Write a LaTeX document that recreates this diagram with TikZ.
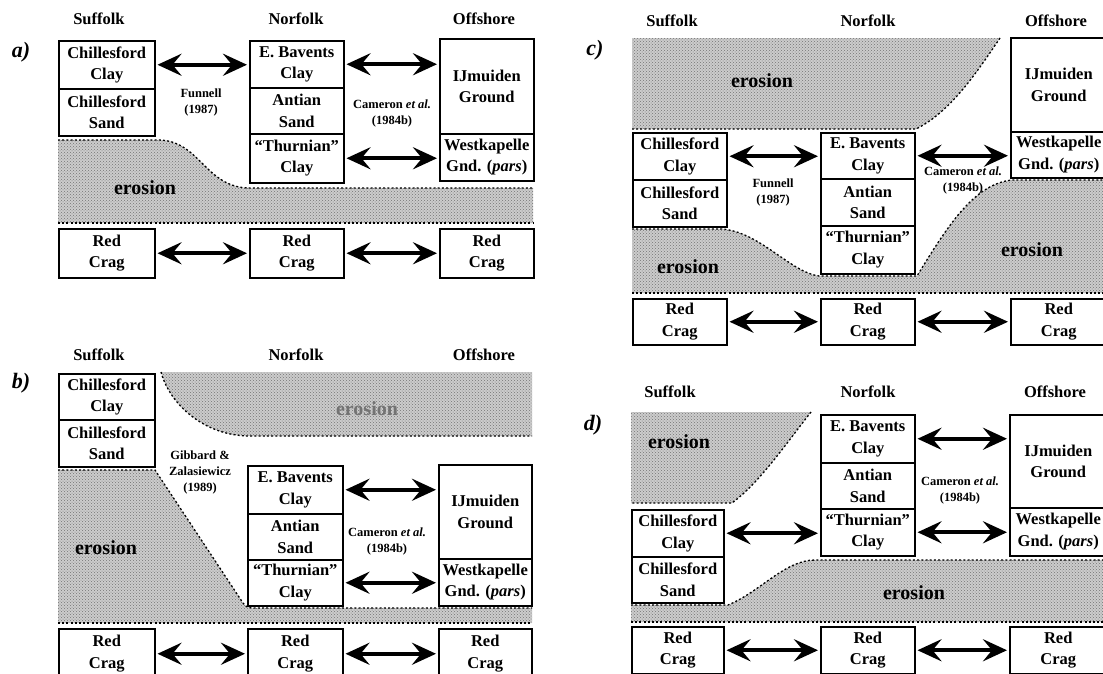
\documentclass[tikz,border=0pt]{standalone}
\usepackage{fontspec}
\setmainfont{Liberation Serif}
\usetikzlibrary{arrows.meta,patterns}
\tikzset{
  lbox/.style={draw, line width=1.5pt, inner sep=0pt, align=center, anchor=north west,
    font=\fontsize{16.5}{21.5}\selectfont\bfseries},
  sz/.style 2 args={minimum width=#1pt, minimum height=#2pt},
  hdr/.style={font=\fontsize{16.5}{18}\selectfont\bfseries},
  refl/.style={align=center, font=\fontsize{12.5}{16}\selectfont\bfseries},
  elab/.style={font=\fontsize{20}{24}\selectfont\bfseries},
  plab/.style={font=\fontsize{22}{24}\selectfont\bfseries\itshape},
  ero/.style={preaction={fill=black!20}, pattern=crosshatch dots, pattern color=black!55},
  erb/.style={line width=1.3pt, dash pattern=on 2pt off 2.2pt},
  dar/.style={line width=4pt,
    {Stealth[length=24pt,width=22pt,inset=9pt]}-{Stealth[length=24pt,width=22pt,inset=9pt]},
    shorten >=2pt, shorten <=2pt},
}
\begin{document}
\begin{tikzpicture}[x=1pt,y=-1pt]
\useasboundingbox (0,0) rectangle (1103,673);
\clip (0,0) rectangle (1103,673);
\fill[white] (0,0) rectangle (1103,673);

% ================= panel a =================
\path[ero] (58,140) -- (158,140) .. controls (200,140) and (205,188) .. (250,188) -- (533,188) -- (533,223) -- (58,223) -- cycle;
\draw[erb] (58,140) -- (158,140) .. controls (200,140) and (205,188) .. (250,188) -- (533,188);
\draw[erb] (58,223) -- (533,223);
\node[plab] (aL) at (21,52) {a)};
\node[hdr] (aHS) at (99,19) {Suffolk};
\node[hdr] (aHN) at (296,19) {Norfolk};
\node[hdr] (aHO) at (484,19) {Offshore};
\node[lbox, sz={96}{48}] (aCC) at (58,40) {Chillesford\\Clay};
\node[lbox, sz={96}{47}] (aCS) at (58,88) {Chillesford\\Sand};
\node[lbox, sz={94}{47}] (aEB) at (249,40) {E. Bavents\\Clay};
\node[lbox, sz={94}{46}] (aAS) at (249,87) {Antian\\Sand};
\node[lbox, sz={94}{49}] (aTH) at (249,133) {``Thurnian''\\Clay};
\node[lbox, sz={94}{95}] (aIJ) at (439,38) {IJmuiden\\Ground};
\node[lbox, sz={94}{47}] (aWK) at (439,133) {Westkapelle\\Gnd. (\textit{pars})};
\node[lbox, sz={96}{49}] (aR1) at (58,228) {Red\\Crag};
\node[lbox, sz={94}{49}] (aR2) at (249,228) {Red\\Crag};
\node[lbox, sz={94}{49}] (aR3) at (439,228) {Red\\Crag};
\node[elab] (aE) at (145,188) {erosion};
\node[refl] (aF) at (201,102) {Funnell\\(1987)};
\node[refl] (aC) at (392,113) {Cameron \textit{et al.}\\(1984b)};
\draw[dar] (aCC.east) -- (aCC.east -| aEB.west);
\draw[dar] (aEB.east) -- (aEB.east -| aIJ.west);
\draw[dar] (aTH.east) -- (aTH.east -| aWK.west);
\draw[dar] (aR1.east) -- (aR1.east -| aR2.west);
\draw[dar] (aR2.east) -- (aR2.east -| aR3.west);

% ================= panel b =================
\path[ero] (161,372) -- (532,372) -- (532,436) -- (250,436) .. controls (205,436) and (170,405) .. (161,372) -- cycle;
\draw[erb] (161,372) .. controls (170,405) and (205,436) .. (250,436) -- (532,436);
\path[ero] (58,470) -- (155,470) -- (243,603) .. controls (246,607) and (248,608) .. (254,608) -- (532,608) -- (532,623) -- (58,623) -- cycle;
\draw[erb] (58,470) -- (155,470) -- (243,603) .. controls (246,607) and (248,608) .. (254,608) -- (532,608);
\draw[erb] (58,623) -- (532,623);
\node[plab] (bL) at (21,383) {b)};
\node[hdr] (bHS) at (99,355) {Suffolk};
\node[hdr] (bHN) at (296,355) {Norfolk};
\node[hdr] (bHO) at (484,355) {Offshore};
\node[lbox, sz={96}{46}] (bCC) at (58,373) {Chillesford\\Clay};
\node[lbox, sz={96}{47}] (bCS) at (58,419) {Chillesford\\Sand};
\node[lbox, sz={95}{48}] (bEB) at (247,465) {E. Bavents\\Clay};
\node[lbox, sz={95}{46}] (bAS) at (247,513) {Antian\\Sand};
\node[lbox, sz={95}{46}] (bTH) at (247,559) {``Thurnian''\\Clay};
\node[lbox, sz={93}{94}] (bIJ) at (438,464) {IJmuiden\\Ground};
\node[lbox, sz={93}{47}] (bWK) at (438,558) {Westkapelle\\Gnd. (\textit{pars})};
\node[lbox, sz={96}{50}] (bR1) at (58,628) {Red\\Crag};
\node[lbox, sz={95}{50}] (bR2) at (247,628) {Red\\Crag};
\node[lbox, sz={93}{50}] (bR3) at (438,628) {Red\\Crag};
\node[elab] (bE) at (106,548) {erosion};
\node[elab, text=black!55] (bE2) at (367,409) {erosion};
\node[refl] (bG) at (200,472) {Gibbard \&\\Zalasiewicz\\(1989)};
\node[refl] (bC) at (387,541) {Cameron \textit{et al.}\\(1984b)};
\draw[dar] (bEB.east) -- (bEB.east -| bIJ.west);
\draw[dar] (bTH.east) -- (bTH.east -| bWK.west);
\draw[dar] (bR1.east) -- (bR1.east -| bR2.west);
\draw[dar] (bR2.east) -- (bR2.east -| bR3.west);

% ================= panel c =================
\path[ero] (632,38) -- (1000,38) .. controls (975,75) and (950,112) .. (916,129) -- (632,129) -- cycle;
\draw[erb] (1000,38) .. controls (975,75) and (950,112) .. (916,129) -- (632,129);
\path[ero] (632,229) -- (722,229) .. controls (760,232) and (790,272) .. (819,276) -- (917,276) .. controls (950,222) and (975,184) .. (1012,180) -- (1103,180) -- (1103,293) -- (632,293) -- cycle;
\draw[erb] (632,229) -- (722,229) .. controls (760,232) and (790,272) .. (819,276) -- (917,276) .. controls (950,222) and (975,184) .. (1012,180) -- (1103,180);
\draw[erb] (632,293) -- (1103,293);
\node[plab] (cL) at (595,50) {c)};
\node[hdr] (cHS) at (672,21) {Suffolk};
\node[hdr] (cHN) at (868,21) {Norfolk};
\node[hdr] (cHO) at (1056,21) {Offshore};
\node[lbox, sz={94}{47}] (cCC) at (632,132) {Chillesford\\Clay};
\node[lbox, sz={94}{47}] (cCS) at (632,179) {Chillesford\\Sand};
\node[lbox, sz={94}{46}] (cEB) at (820,132) {E. Bavents\\Clay};
\node[lbox, sz={94}{47}] (cAS) at (820,178) {Antian\\Sand};
\node[lbox, sz={94}{48}] (cTH) at (820,225) {``Thurnian''\\Clay};
\node[lbox, sz={96}{94}] (cIJ) at (1010,37) {IJmuiden\\Ground};
\node[lbox, sz={96}{46}] (cWK) at (1010,131) {Westkapelle\\Gnd. (\textit{pars})};
\node[lbox, sz={94}{46}] (cR1) at (632,298) {Red\\Crag};
\node[lbox, sz={94}{46}] (cR2) at (820,298) {Red\\Crag};
\node[lbox, sz={96}{46}] (cR3) at (1010,298) {Red\\Crag};
\node[elab] (cE1) at (762,81) {erosion};
\node[elab] (cE2) at (688,267) {erosion};
\node[elab] (cE3) at (1032,250) {erosion};
\node[refl] (cF) at (773,192) {Funnell\\(1987)};
\node[refl] (cC) at (963,180) {Cameron \textit{et al.}\\(1984b)};
\draw[dar] (cCC.east) -- (cCC.east -| cEB.west);
\draw[dar] (cEB.east) -- (cEB.east -| cWK.west);
\draw[dar] (cR1.east) -- (cR1.east -| cR2.west);
\draw[dar] (cR2.east) -- (cR2.east -| cR3.west);

% ================= panel d =================
\path[ero] (631,412) -- (811,412) .. controls (785,445) and (760,482) .. (732,503) -- (631,503) -- cycle;
\draw[erb] (811,412) .. controls (785,445) and (760,482) .. (732,503) -- (631,503);
\path[ero] (631,605) -- (728,605) .. controls (760,592) and (785,560) .. (815,560) -- (1103,560) -- (1103,622) -- (631,622) -- cycle;
\draw[erb] (631,605) -- (728,605) .. controls (760,592) and (785,560) .. (815,560) -- (1103,560);
\draw[erb] (631,622) -- (1103,622);
\node[plab] (dL) at (593,425) {d)};
\node[hdr] (dHS) at (670,392) {Suffolk};
\node[hdr] (dHN) at (868,392) {Norfolk};
\node[hdr] (dHO) at (1055,392) {Offshore};
\node[lbox, sz={94}{48}] (dEB) at (820,414) {E. Bavents\\Clay};
\node[lbox, sz={94}{46}] (dAS) at (820,462) {Antian\\Sand};
\node[lbox, sz={94}{47}] (dTH) at (820,508) {``Thurnian''\\Clay};
\node[lbox, sz={97}{93}] (dIJ) at (1009,414) {IJmuiden\\Ground};
\node[lbox, sz={97}{48}] (dWK) at (1009,507) {Westkapelle\\Gnd. (\textit{pars})};
\node[lbox, sz={92}{47}] (dCC) at (631,509) {Chillesford\\Clay};
\node[lbox, sz={92}{46}] (dCS) at (631,556) {Chillesford\\Sand};
\node[lbox, sz={92}{47}] (dR1) at (631,626) {Red\\Crag};
\node[lbox, sz={94}{47}] (dR2) at (820,626) {Red\\Crag};
\node[lbox, sz={97}{47}] (dR3) at (1009,626) {Red\\Crag};
\node[elab] (dE1) at (679,442) {erosion};
\node[elab] (dE2) at (914,593) {erosion};
\node[refl] (dC) at (960,490) {Cameron \textit{et al.}\\(1984b)};
\draw[dar] (dEB.east) -- (dEB.east -| dIJ.west);
\draw[dar] (dTH.east) -- (dTH.east -| dWK.west);
\draw[dar] (dCC.east) -- (dCC.east -| dTH.west);
\draw[dar] (dR1.east) -- (dR1.east -| dR2.west);
\draw[dar] (dR2.east) -- (dR2.east -| dR3.west);
\end{tikzpicture}
\end{document}
